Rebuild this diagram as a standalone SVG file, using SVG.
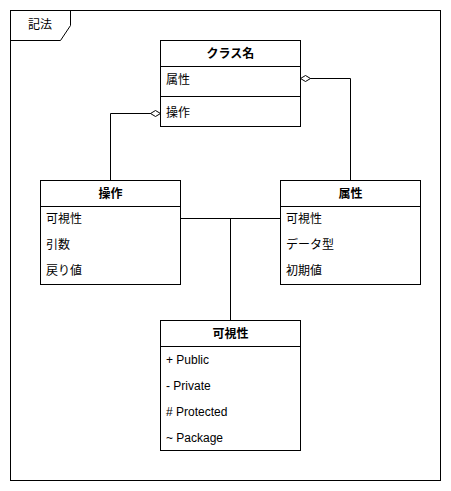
<svg xmlns="http://www.w3.org/2000/svg" width="451" height="491" viewBox="0 0 451 491">
<style>
.box{fill:#fff;stroke:#000;stroke-width:1}
.ln{fill:none;stroke:#000;stroke-width:1}
.t{font-family:"Liberation Sans","Noto Sans CJK JP",sans-serif;font-size:12px;fill:#000}
.h{font-weight:bold;text-anchor:middle}
</style>
<defs>
<marker id="dia" markerWidth="12" markerHeight="8" refX="11" refY="4" orient="auto" markerUnits="userSpaceOnUse">
<path d="M1,4 L6,1 L11,4 L6,7 Z" fill="#fff" stroke="#000" stroke-width="1"/>
</marker>
</defs>
<g id="frame">
<rect x="10.5" y="10.5" width="430" height="470" class="box"/>
<path d="M10.5,40.5 L60.5,40.5 L70.5,25.5 L70.5,10.5" class="ln"/>
<text x="28" y="29" class="t">記法</text>
</g>
<g id="connectors">
<path d="M350.5,180.5 L350.5,78.5 L300.5,78.5" class="ln" marker-end="url(#dia)"/>
<path d="M110.5,180.5 L110.5,113.5 L160.5,113.5" class="ln" marker-end="url(#dia)"/>
<path d="M180.5,218.5 L280.5,218.5" class="ln"/>
<path d="M230.5,218.5 L230.5,320.5" class="ln"/>
</g>
<g id="class">
<rect x="160.5" y="40.5" width="140" height="86" class="box"/>
<line x1="160.5" y1="66.5" x2="300.5" y2="66.5" class="ln"/>
<line x1="160.5" y1="96.5" x2="300.5" y2="96.5" class="ln"/>
<text x="230.5" y="58" class="t h">クラス名</text>
<text x="166" y="84" class="t">属性</text>
<text x="166" y="117" class="t">操作</text>
</g>
<g id="operation">
<rect x="40.5" y="180.5" width="140" height="104" class="box"/>
<line x1="40.5" y1="206.5" x2="180.5" y2="206.5" class="ln"/>
<text x="110.5" y="198" class="t h">操作</text>
<text x="46" y="223" class="t">可視性</text>
<text x="46" y="249" class="t">引数</text>
<text x="46" y="275" class="t">戻り値</text>
</g>
<g id="attribute">
<rect x="280.5" y="180.5" width="140" height="104" class="box"/>
<line x1="280.5" y1="206.5" x2="420.5" y2="206.5" class="ln"/>
<text x="350.5" y="198" class="t h">属性</text>
<text x="286" y="223" class="t">可視性</text>
<text x="286" y="249" class="t">データ型</text>
<text x="286" y="275" class="t">初期値</text>
</g>
<g id="visibility">
<rect x="160.5" y="320.5" width="140" height="130" class="box"/>
<line x1="160.5" y1="346.5" x2="300.5" y2="346.5" class="ln"/>
<text x="230.5" y="338" class="t h">可視性</text>
<text x="166" y="364" class="t">+ Public</text>
<text x="166" y="390" class="t">- Private</text>
<text x="166" y="416" class="t"># Protected</text>
<text x="166" y="442" class="t">~ Package</text>
</g>
</svg>
